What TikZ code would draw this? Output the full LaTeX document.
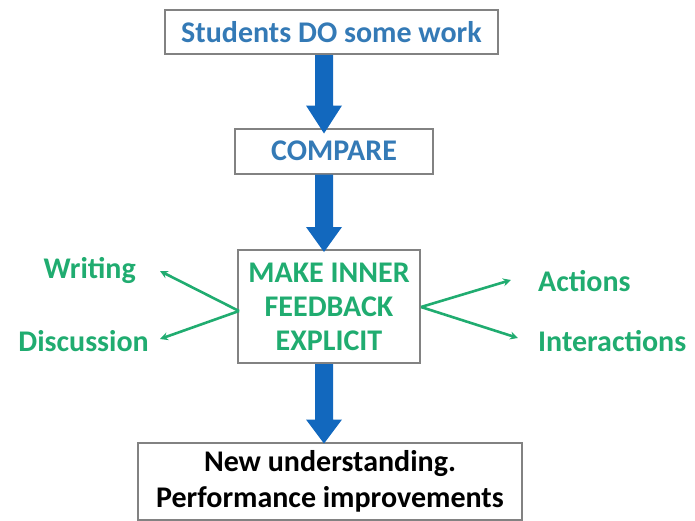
\documentclass[tikz,border=0pt]{standalone}
\usepackage{fontspec}
\setmainfont{Carlito}
\usetikzlibrary{arrows.meta}
\definecolor{tblue}{RGB}{52,122,182}
\definecolor{ablue}{RGB}{18,104,190}
\definecolor{tgreen}{RGB}{32,172,112}
\definecolor{bgray}{RGB}{130,130,130}
\tikzset{
  box/.style={draw=bgray, line width=2pt, inner sep=0pt, font=\fontsize{30}{34}\selectfont\bfseries, align=center},
  garrow/.style={draw=tgreen, line width=2.6pt, -{Stealth[length=8pt,width=8pt]}},
  glabel/.style={text=tgreen, font=\fontsize{30}{34}\selectfont\bfseries, inner sep=0pt},
  bigarrow/.style={draw=none, fill=ablue},
}
\begin{document}
\begin{tikzpicture}[x=1pt,y=-1pt]
\useasboundingbox (0,0) rectangle (695,520);
\node[box, text=tblue, minimum width=333pt, minimum height=44pt] (s) at (331.5,32) {Students DO some work};
\node[box, text=tblue, minimum width=198pt, minimum height=45pt] (c) at (334,151) {COMPARE};
\node[box, text=tgreen, minimum width=182pt, minimum height=113pt] (m) at (329,306.5) {MAKE INNER\\FEEDBACK\\EXPLICIT};
\node[box, text=black, minimum width=384pt, minimum height=77pt, font=\fontsize{30}{36}\selectfont\bfseries] (n) at (330,481) {New understanding.\\Performance improvements};
% big blue arrows at x = 324
\foreach \top/\bot/\tip in {s/c/6, c/m/3, m/n/2}{
  \path (324,0) coordinate (ax);
  \path (\top.south -| ax) coordinate (p1);
  \path (\bot.north -| ax) coordinate (p2);
  \fill[ablue] ([xshift=-9pt]p1) -- ([xshift=9pt]p1) -- ([xshift=9pt,yshift=22pt]p2) -- ([xshift=18pt,yshift=22pt]p2) -- ([yshift=-\tip pt]p2) -- ([xshift=-18pt,yshift=22pt]p2) -- ([xshift=-9pt,yshift=22pt]p2) -- cycle;
}
% green labels
\node[glabel, anchor=east] (w) at (136,270) {Writing};
\node[glabel, anchor=east] (d) at (149,341) {Discussion};
\node[glabel, anchor=west] (a) at (538,281) {Actions};
\node[glabel, anchor=west] (i) at (538,341) {Interactions};
\coordinate (ml) at (239,311);
\coordinate (mr) at (421,307);
\coordinate (wt) at (160,271);
\coordinate (dt) at (160,339);
\coordinate (at) at (511,280);
\coordinate (it) at (518,338);
\draw[garrow] (ml) -- (wt);
\draw[garrow] (ml) -- (dt);
\draw[garrow] (mr) -- (at);
\draw[garrow] (mr) -- (it);
\end{tikzpicture}
\end{document}
